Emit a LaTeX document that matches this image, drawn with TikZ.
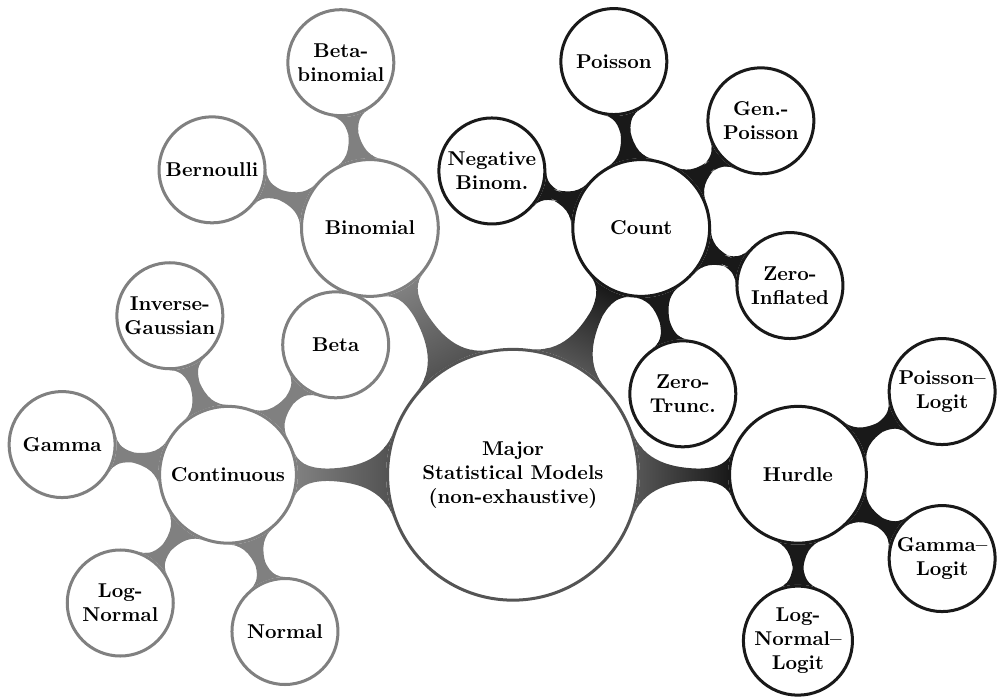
\documentclass[tikz,border=0pt]{standalone}
\usepackage{tikz}
\usetikzlibrary{mindmap,backgrounds}

\definecolor{rootgray}{gray}{0.33}
\definecolor{contgray}{gray}{0.5}
\definecolor{countblack}{gray}{0.1}

\begin{document}
\begin{tikzpicture}[
    model/.style={circle, fill=white, text=black, align=center, font=\bfseries, inner sep=0pt, line width=1.5pt},
    rootmodel/.style={model, draw=rootgray, minimum size=4.4cm},
    fammodel/.style={model, draw=#1, minimum size=2.4cm},
    leafmodel/.style={model, draw=#1, minimum size=1.86cm},
    linkbar/.style 2 args={circle connection bar switch color=from (#1) to (#2)}
]
    \useasboundingbox (-9.0,-3.95) rectangle (8.51,8.33);

    % Root
    \node[rootmodel] (root) at (0,0) {Major\\Statistical Models\\(non-exhaustive)};

    % Families
    \node[fammodel=contgray] (bin) at (-2.51,4.33) {Binomial};
    \node[fammodel=contgray] (cont) at (-5.0,0) {Continuous};
    \node[fammodel=countblack] (count) at (2.25,4.33) {Count};
    \node[fammodel=countblack] (hurdle) at (5.0,0) {Hurdle};

    % Binomial models
    \node[leafmodel=contgray] (betabin) at (-3.02,7.23) {Beta-\\binomial};
    \node[leafmodel=contgray] (bern) at (-5.28,5.35) {Bernoulli};

    % Continuous models
    \node[leafmodel=contgray] (invgauss) at (-6.02,2.79) {Inverse-\\Gaussian};
    \node[leafmodel=contgray] (beta) at (-3.11,2.28) {Beta};
    \node[leafmodel=contgray] (gamma) at (-7.91,0.53) {Gamma};
    \node[leafmodel=contgray] (lognorm) at (-6.89,-2.25) {Log-\\Normal};
    \node[leafmodel=contgray] (normal) at (-4.0,-2.75) {Normal};

    % Count models
    \node[leafmodel=countblack] (negbin) at (-0.37,5.33) {Negative\\Binom.};
    \node[leafmodel=countblack] (poisson) at (1.77,7.25) {Poisson};
    \node[leafmodel=countblack] (genpois) at (4.35,6.21) {Gen.-\\Poisson};
    \node[leafmodel=countblack] (zinf) at (4.86,3.32) {Zero-\\Inflated};
    \node[leafmodel=countblack] (ztrunc) at (2.98,1.42) {Zero-\\Trunc.};

    % Hurdle models
    \node[leafmodel=countblack] (poislogit) at (7.53,1.46) {Poisson--\\Logit};
    \node[leafmodel=countblack] (gamlogit) at (7.53,-1.47) {Gamma--\\Logit};
    \node[leafmodel=countblack] (lnlogit) at (5.0,-2.91) {Log-\\Normal--\\Logit};

    % Connections
    \begin{pgfonlayer}{background}
    \begin{scope}[mindmap]
        \path (root) to[linkbar={rootgray}{contgray}] (bin);
        \path (root) to[linkbar={rootgray}{contgray}] (cont);
        \path (root) to[linkbar={rootgray}{countblack}] (count);
        \path (root) to[linkbar={rootgray}{countblack}] (hurdle);
        \foreach \c in {betabin, bern}
            \path (bin) to[linkbar={contgray}{contgray}] (\c);
        \foreach \c in {invgauss, beta, gamma, lognorm, normal}
            \path (cont) to[linkbar={contgray}{contgray}] (\c);
        \foreach \c in {negbin, poisson, genpois, zinf, ztrunc}
            \path (count) to[linkbar={countblack}{countblack}] (\c);
        \foreach \c in {poislogit, gamlogit, lnlogit}
            \path (hurdle) to[linkbar={countblack}{countblack}] (\c);
    \end{scope}
    \end{pgfonlayer}
\end{tikzpicture}
\end{document}
